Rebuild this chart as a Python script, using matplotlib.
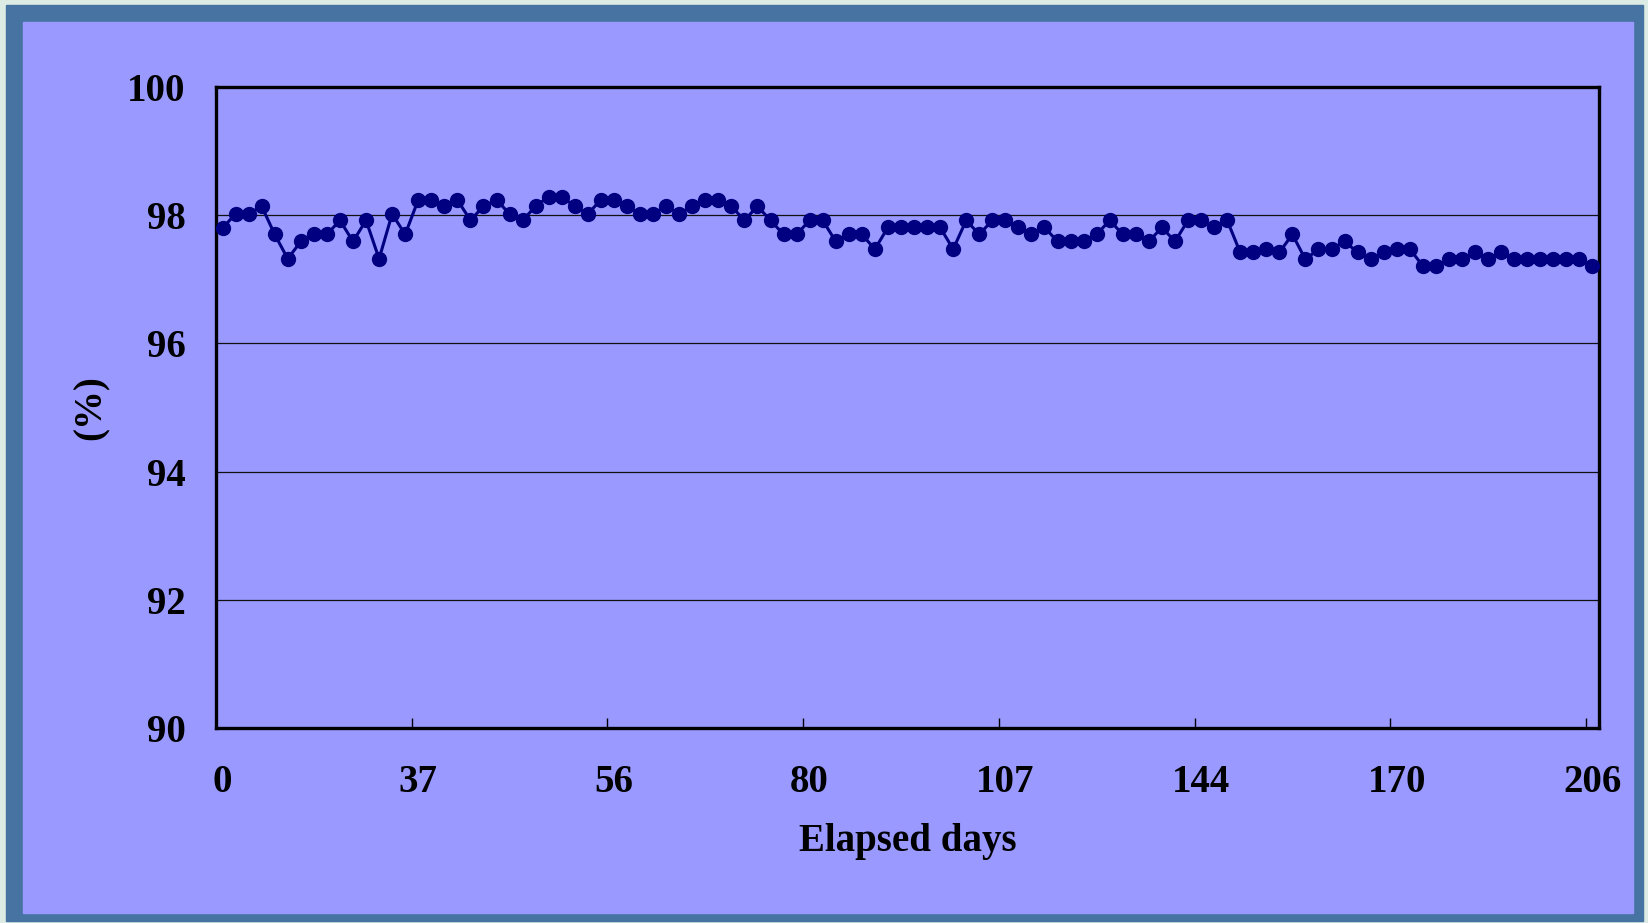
#!/usr/bin/env python
"""Elapsed-days trend chart, Excel-style line with markers."""

import matplotlib

matplotlib.use("Agg")
import matplotlib.pyplot as plt
from matplotlib.patches import Rectangle

# one reading per sample, category axis (labels every 15th sample)
VALUES = [
    97.80, 98.02, 98.02, 98.14, 97.70, 97.32, 97.59, 97.70, 97.70, 97.92,
    97.59, 97.92, 97.32, 98.02, 97.70, 98.24, 98.24, 98.14, 98.24, 97.92,
    98.14, 98.24, 98.02, 97.92, 98.14, 98.29, 98.29, 98.14, 98.02, 98.24,
    98.24, 98.14, 98.02, 98.02, 98.14, 98.02, 98.14, 98.24, 98.24, 98.14,
    97.92, 98.14, 97.92, 97.70, 97.70, 97.92, 97.92, 97.59, 97.70, 97.70,
    97.47, 97.81, 97.81, 97.81, 97.81, 97.81, 97.47, 97.92, 97.70, 97.92,
    97.92, 97.81, 97.70, 97.81, 97.59, 97.59, 97.59, 97.70, 97.92, 97.70,
    97.70, 97.59, 97.81, 97.59, 97.92, 97.92, 97.81, 97.92, 97.42, 97.42,
    97.47, 97.42, 97.70, 97.31, 97.47, 97.47, 97.59, 97.42, 97.31, 97.42,
    97.47, 97.47, 97.21, 97.21, 97.31, 97.31, 97.42, 97.31, 97.42, 97.31,
    97.31, 97.31, 97.31, 97.31, 97.31, 97.21,
]
LABEL_EVERY = 15
X_TICK_LABELS = ["0", "37", "56", "80", "107", "144", "170", "206"]
Y_TICKS = [90, 92, 94, 96, 98, 100]

W, H = 1649, 923
NAVY = "#000080"
PANEL = "#9999ff"
FRAME = "#4673a1"
FONT = {"family": "Liberation Serif", "weight": "bold"}


def fx(px):
    return px / W


def fy(py):
    return 1 - py / H


def main() -> None:
    fig = plt.figure(figsize=(W / 100, H / 100), dpi=100, facecolor="#dcebe4")

    # slide frame and lavender panel, kept behind the axes
    fig.patches.append(Rectangle((fx(6), fy(921)), fx(1643 - 6), (921 - 5) / H,
                                 transform=fig.transFigure, color=FRAME, zorder=-2))
    fig.patches.append(Rectangle((fx(23), fy(913)), fx(1633 - 23), (913 - 22) / H,
                                 transform=fig.transFigure, color=PANEL, zorder=-1))

    left, right, top, bottom = 216, 1599, 87, 728
    ax = fig.add_axes([fx(left), fy(bottom), fx(right - left), (bottom - top) / H])
    ax.set_zorder(2)
    ax.set_facecolor(PANEL)

    xs = list(range(len(VALUES)))
    ax.plot(xs, VALUES, color=NAVY, linewidth=2.2, marker="o", markersize=10,
            markerfacecolor=NAVY, markeredgecolor=NAVY, zorder=3, clip_on=False)

    ax.set_xlim(-0.5, len(VALUES) - 0.5)
    ax.set_ylim(90, 100)

    for y in Y_TICKS[1:-1]:
        ax.axhline(y, color="#111111", linewidth=0.9, zorder=1)

    label_pos = list(range(0, len(VALUES), LABEL_EVERY))
    ax.set_xticks(label_pos, labels=X_TICK_LABELS, fontdict=FONT, fontsize=28)
    ax.tick_params(axis="x", length=0, pad=26)
    ax.set_xticks([p - 0.5 for p in label_pos[1:]], minor=True)
    ax.tick_params(axis="x", which="minor", direction="in", length=7, width=1, color="black")

    ax.set_yticks(Y_TICKS, labels=[str(v) for v in Y_TICKS], fontdict=FONT, fontsize=28)
    ax.tick_params(axis="y", length=0, pad=22)

    for spine in ax.spines.values():
        spine.set_linewidth(2.4)
        spine.set_color("black")

    fig.text(fx(91), fy(408), "(%)", rotation=90, ha="center", va="center",
             fontsize=28, **FONT)
    fig.text(fx(908), fy(841), "Elapsed days", ha="center", va="center",
             fontsize=28, **FONT)

    fig.savefig("out.png", dpi=100, facecolor=fig.get_facecolor())
    plt.close(fig)


if __name__ == "__main__":
    main()
